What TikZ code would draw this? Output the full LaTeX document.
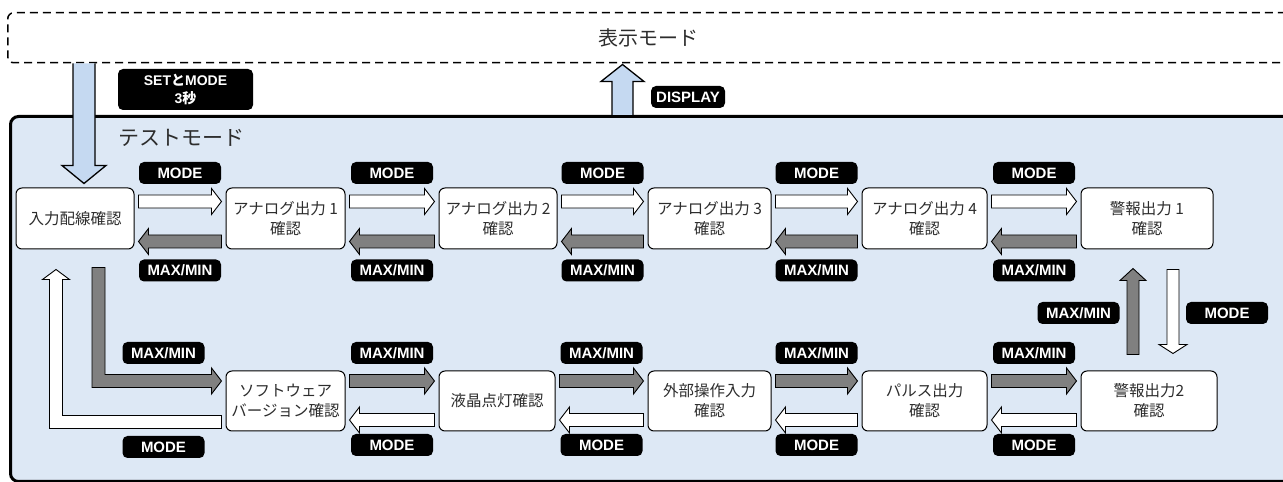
\documentclass[tikz,border=0pt]{standalone}
\usepackage{fontspec}
\setmainfont{Liberation Sans}
\newfontfamily\jp{Noto Sans CJK JP}
\usetikzlibrary{calc}
\definecolor{panel}{RGB}{221,232,245}
\definecolor{bigarrow}{RGB}{197,217,241}
\definecolor{darkarrow}{RGB}{128,128,128}
\definecolor{txt}{RGB}{45,45,45}
% right-pointing block arrow from node #2 to node #3, offset #4 from #2's centre
\newcommand\RArrow[4]{%
 \draw[blk,fill=#1] let \p1=(#2.east), \p2=(#3.west), \p3=(#2.center) in
 (\x1+4pt,{\y3+(#4)+6.5pt}) -- (\x2-14pt,{\y3+(#4)+6.5pt}) -- (\x2-14pt,{\y3+(#4)+13pt})
 -- (\x2-4pt,{\y3+(#4)}) -- (\x2-14pt,{\y3+(#4)-13pt}) -- (\x2-14pt,{\y3+(#4)-6.5pt})
 -- (\x1+4pt,{\y3+(#4)-6.5pt}) -- cycle;}
% left-pointing block arrow from node #3 to node #2
\newcommand\LArrow[4]{%
 \draw[blk,fill=#1] let \p1=(#2.east), \p2=(#3.west), \p3=(#2.center) in
 (\x2-4pt,{\y3+(#4)+6.5pt}) -- (\x1+14pt,{\y3+(#4)+6.5pt}) -- (\x1+14pt,{\y3+(#4)+13pt})
 -- (\x1+4pt,{\y3+(#4)}) -- (\x1+14pt,{\y3+(#4)-13pt}) -- (\x1+14pt,{\y3+(#4)-6.5pt})
 -- (\x2-4pt,{\y3+(#4)-6.5pt}) -- cycle;}
\begin{document}
\begin{tikzpicture}[x=1pt,y=1pt,
  state/.style={draw=black, line width=1pt, fill=white, rounded corners=6pt,
    minimum height=61pt, align=center, inner sep=0pt, text=txt,
    font=\jp\fontsize{15.5}{20}\selectfont},
  key/.style={fill=black, rounded corners=5pt, text=white, inner sep=0pt,
    minimum width=82pt, minimum height=22pt,
    font=\bfseries\fontsize{15}{15}\selectfont},
  blk/.style={draw=black, line width=0.9pt, line join=miter}]
\clip (0,0) rectangle (1283,482);
\fill[white] (0,0) rectangle (1283,482);
% display mode box
\node[draw=black, line width=1.5pt, dash pattern=on 8pt off 5pt, rounded corners=6pt,
  minimum width=1310pt, minimum height=50pt, anchor=north west, inner sep=0pt] (disp) at (7,470) {};
\node[font=\jp\fontsize{20}{20}\selectfont, text=txt] (disptitle) at (648,444) {表示モード};
% test mode panel
\node[draw=black, line width=3pt, fill=panel, rounded corners=8pt,
  minimum width=1310pt, minimum height=365pt, anchor=north west, inner sep=0pt] (test) at (9,367) {};
\node[font=\jp\fontsize{21}{21}\selectfont, text=txt, anchor=west, inner sep=0pt] (testtitle) at (118,344) {テストモード};

% states, top row
\node[state, minimum width=118pt] (n1) at (75,263.5) {入力配線確認};
\node[state, minimum width=119pt] (n2) at (285.5,263.5) {アナログ出力 1\\確認};
\node[state, minimum width=118pt] (n3) at (498,263.5) {アナログ出力 2\\確認};
\node[state, minimum width=123pt] (n4) at (709.5,263.5) {アナログ出力 3\\確認};
\node[state, minimum width=125pt] (n5) at (924.5,263.5) {アナログ出力 4\\確認};
\node[state, minimum width=132pt] (n6) at (1147,263.5) {警報出力 1\\確認};
% states, bottom row
\node[state, minimum width=119pt, minimum height=60pt] (s1) at (285.5,81) {ソフトウェア\\バージョン確認};
\node[state, minimum width=116pt, minimum height=60pt] (s2) at (497,81) {液晶点灯確認};
\node[state, minimum width=123pt, minimum height=60pt] (s3) at (709.5,81) {外部操作入力\\確認};
\node[state, minimum width=125pt, minimum height=60pt] (s4) at (924.5,81) {パルス出力\\確認};
\node[state, minimum width=136pt, minimum height=60pt] (s5) at (1149,81) {警報出力2\\確認};

% top row arrows
\RArrow{white}{n1}{n2}{17pt}   \LArrow{darkarrow}{n1}{n2}{-23pt}
\RArrow{white}{n2}{n3}{17pt}   \LArrow{darkarrow}{n2}{n3}{-23pt}
\RArrow{white}{n3}{n4}{17pt}   \LArrow{darkarrow}{n3}{n4}{-23pt}
\RArrow{white}{n4}{n5}{17pt}   \LArrow{darkarrow}{n4}{n5}{-23pt}
\RArrow{white}{n5}{n6}{17pt}   \LArrow{darkarrow}{n5}{n6}{-23pt}
% bottom row arrows
\RArrow{darkarrow}{s1}{s2}{20pt}   \LArrow{white}{s1}{s2}{-19pt}
\RArrow{darkarrow}{s2}{s3}{20pt}   \LArrow{white}{s2}{s3}{-19pt}
\RArrow{darkarrow}{s3}{s4}{20pt}   \LArrow{white}{s3}{s4}{-19pt}
\RArrow{darkarrow}{s4}{s5}{20pt}   \LArrow{white}{s4}{s5}{-19pt}

% top row labels
\foreach \a/\b [count=\i] in {n1/n2,n2/n3,n3/n4,n4/n5,n5/n6}{
  \node[key] (tm\i) at ($(\a.east)!.5!(\b.west)+(0,45.5)$) {MODE};
  \node[key] (tx\i) at ($(\a.east)!.5!(\b.west)+(0,-52)$) {MAX/MIN};
}
% bottom row labels
\foreach \a/\b [count=\i] in {s1/s2,s2/s3,s3/s4,s4/s5}{
  \node[key] (bx\i) at ($(\a.east)!.5!(\b.west)+(0,48)$) {MAX/MIN};
  \node[key] (bm\i) at ($(\a.east)!.5!(\b.west)+(0,-44)$) {MODE};
}

% left loop: grey L arrow (n1 -> s1)
\draw[blk,fill=darkarrow] let \p1=(n1.south), \p2=(s1.west) in
 (\x1+17pt,\y1-18pt) -- (\x1+30pt,\y1-18pt) -- (\x1+30pt,\y2+26.5pt) -- (\x2-14pt,\y2+26.5pt)
 -- (\x2-14pt,\y2+33pt) -- (\x2-4pt,\y2+20pt) -- (\x2-14pt,\y2+7pt) -- (\x2-14pt,\y2+13.5pt)
 -- (\x1+17pt,\y2+13.5pt) -- cycle;
\node[key] (lx) at (163.5,129) {MAX/MIN};
% left loop: white L arrow (s1 -> n1)
\draw[blk,fill=white] let \p1=(n1.south), \p2=(s1.west) in
 (\x2-4pt,\y2-14.5pt) -- (\x1-12.5pt,\y2-14.5pt) -- (\x1-12.5pt,\y1-30pt) -- (\x1-5.5pt,\y1-30pt)
 -- (\x1-19pt,\y1-20pt) -- (\x1-32.5pt,\y1-30pt) -- (\x1-25.5pt,\y1-30pt) -- (\x1-25.5pt,\y2-27.5pt)
 -- (\x2-4pt,\y2-27.5pt) -- cycle;
\node[key] (lm) at (163.5,35) {MODE};

% right side vertical arrows
\draw[blk,fill=darkarrow] let \p1=(s5.north), \p2=(n6.south) in
 (1127,\y1+16pt) -- (1127,\y2-31pt) -- (1120,\y2-31pt) -- (1133,\y2-19pt) -- (1146,\y2-31pt)
 -- (1139,\y2-31pt) -- (1139,\y1+16pt) -- cycle;
\draw[blk,fill=white] let \p1=(s5.north), \p2=(n6.south) in
 (1167,\y2-20pt) -- (1167,\y1+26pt) -- (1159,\y1+26pt) -- (1173,\y1+17pt) -- (1187,\y1+26pt)
 -- (1179,\y1+26pt) -- (1179,\y2-20pt) -- cycle;
\node[key] (rx) at (1078.5,169) {MAX/MIN};
\node[key] (rm) at (1227,169) {MODE};

% enter test mode (display box -> n1)
\draw[blk, line width=1.3pt, fill=bigarrow] let \p1=(disp.south west), \p2=(n1.north) in
 (\x2-2pt,\y1) -- (\x2-2pt,\y2+22pt) -- (\x2-13pt,\y2+22pt) -- (\x2+9pt,\y2+4pt)
 -- (\x2+31pt,\y2+22pt) -- (\x2+20pt,\y2+22pt) -- (\x2+20pt,\y1);
\node[key, minimum width=135pt, minimum height=41pt, align=center,
  font=\bfseries\fontsize{14}{18}\selectfont] (setkey) at (185.5,392.5)
  {SET{\jp\bfseries と}MODE\\3{\jp\bfseries 秒}};
% back to display mode (test panel -> display box)
\draw[blk, line width=1.3pt, fill=bigarrow] let \p1=(test.north), \p2=(disp.south) in
 (612,\y1) -- (612,\y2-18pt) -- (601,\y2-18pt) -- (622.5,\y2-1pt) -- (644,\y2-18pt)
 -- (633,\y2-18pt) -- (633,\y1);
\node[key, minimum width=74pt] (dispkey) at (688,385) {DISPLAY};
\end{tikzpicture}
\end{document}
